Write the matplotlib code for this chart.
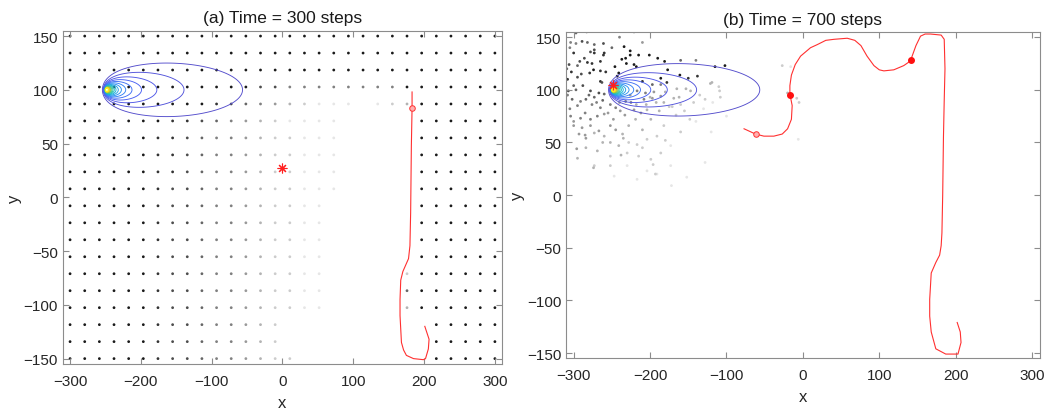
import numpy as np
import matplotlib.pyplot as plt
from matplotlib.colors import LinearSegmentedColormap

plt.rcParams['font.family'] = ['Liberation Sans', 'DejaVu Sans']

# ---- data ---------------------------------------------------------------
# candidate grid of panel (a): x columns, y rows (top -> bottom)
grid_x = np.linspace(-300, 300, 30)
grid_y = np.linspace(150, -150, 20)
# darkness of each grid point, 0 = not drawn, 9 = black
shade_rows = [
    "999999999999999999999999999999",
    "999999999999999999999999999999",
    "999999999999999999999999999999",
    "999999999999977555555559999999",
    "999999999987654321110123999999",
    "999999988765432111100000999999",
    "999999887655432211100000999999",
    "999999887655432211100000999999",
    "999999887655432211100000999999",
    "999999877655432211100000999999",
    "999999877655432211000000999999",
    "999999877655432211000000999999",
    "999999877655432211000000999999",
    "999999877655432211000000999999",
    "999999877655432211000002999999",
    "999999877655432211000006999999",
    "999999877655432211000003999999",
    "999999877655432000000000099999",
    "999999877655432000000000099999",
    "999999877655432200000000099999",
]

# particles of panel (b): x, y, darkness
cloud_x = [-297, -283, -221, -304, -297, -289, -282, -273, -261, -300, -273, -278, -273, -260,
           -234, -226, -226, -215, -201, -261, -237, -232, -190, -181, -286, -292, -282, -276,
           -306, -295, -265, -231, -221, -218, -246, -177, -161, -150, -138, -115, -102, -303,
           -290, -279, -274, -265, -258, -241, -186, -178, -295, -308, -265, -263, -243, -210,
           -197, -186, -121, -119, -153, -147, -165, -109, -195, -307, -297, -278, -267, -260,
           -273, -284, -217, -206, -197, -186, -208, -225, -232, -302, -291, -295, -276, -265,
           -260, -269, -278, -291, -304, -252, -245, -239, -221, -212, -182, -169, -162, -143,
           -171, -188, -204, -160, -300, -289, -278, -267, -252, -245, -236, -228, -219, -210,
           -199, -182, -293, -284, -273, -260, -252, -241, -228, -217, -204, -191, -284, -269,
           -252, -230, -215, -199, -186, -173, -273, -252, -230, -204, -191, -247, -217, -173,
           -128, -110, -108, -27, -5, -8, -20, -16, -6, -140, -120, -100,
           -296, -274, -238, -196, -172, -152, -128, -193,
           -308, -305, -300, -285, -280, -270, -262, -255, -248, -240, -233, -226, -218, -205,
           -200, -192, -180, -175, -166, -155, -148, -135, -130, -118, -300, -288, -309, -305,
           -250, -240, -210, -160, -140, -285, -262, -235, -210, -295, -180, -160]
cloud_y = [154, 155, 155, 145, 144, 146, 145, 143, 144, 135, 138, 136, 135, 135,
           141, 137, 133, 133, 133, 133, 129, 130, 130, 127, 130, 127, 126, 125,
           124, 123, 127, 125, 124, 122, 122, 119, 114, 111, 113, 122, 123, 117,
           115, 116, 119, 118, 117, 116, 111, 107, 112, 110, 108, 107, 113, 108,
           105, 105, 106, 107, 101, 99, 101, 99, 98, 99, 100, 99, 97, 96,
           93, 91, 99, 97, 92, 94, 91, 88, 89, 91, 89, 85, 86, 83,
           77, 75, 72, 73, 75, 86, 83, 80, 81, 78, 88, 92, 93, 88,
           84, 80, 81, 86, 66, 64, 66, 61, 66, 62, 58, 66, 72, 62,
           72, 66, 58, 54, 59, 56, 50, 47, 50, 48, 53, 56, 45, 42,
           37, 40, 37, 34, 40, 47, 28, 28, 28, 23, 20, 18, 15, 28,
           91, 103, 93, 123, 88, 92, 97, 122, 53, 70, 60, 75,
           44, 26, 38, 29, 9, 17, 31, 20,
           95, 82, 70, 78, 95, 88, 90, 78, 72, 88, 76, 95, 86, 86,
           93, 88, 98, 84, 76, 80, 72, 95, 82, 88, 104, 104, 120, 140,
           140, 150, 145, 128, 128, 57, 50, 54, 45, 35, 52, 60]
cloud_d = [6, 5, 5, 5, 5, 7, 6, 6, 7, 8, 7, 7, 8, 8,
           9, 9, 9, 9, 9, 8, 9, 9, 9, 9, 7, 7, 8, 8,
           7, 6, 8, 9, 9, 9, 9, 9, 9, 8, 8, 9, 9, 8,
           7, 8, 9, 8, 8, 9, 9, 8, 7, 8, 8, 7, 9, 8,
           6, 5, 3, 3, 3, 3, 3, 2, 4, 7, 6, 7, 7, 6,
           6, 6, 5, 5, 4, 4, 5, 5, 5, 6, 5, 5, 5, 5,
           4, 5, 5, 5, 5, 5, 5, 4, 4, 4, 3, 3, 3, 2,
           2, 3, 3, 2, 4, 4, 4, 4, 4, 4, 3, 3, 3, 3,
           3, 2, 4, 4, 3, 3, 3, 3, 2, 2, 2, 2, 3, 3,
           2, 2, 2, 2, 2, 1, 2, 2, 1, 1, 1, 1, 1, 1,
           2, 2, 2, 2, 2, 2, 3, 1, 1, 1, 1, 1,
           4, 3, 3, 2, 1, 1, 1, 2,
           5, 5, 4, 5, 6, 5, 6, 4, 4, 4, 4, 4, 3, 3,
           3, 3, 3, 2, 2, 2, 2, 2, 1, 1, 6, 7, 6, 5,
           6, 5, 4, 6, 5, 4, 3, 3, 2, 3, 2, 2]

# searcher path, panel (a)
path_a_x = [183, 183, 182, 181, 180, 178, 174, 170, 167, 166, 166, 168, 171, 175, 185, 199,
            202, 206, 207, 204, 201]
path_a_y = [98, 83, 48, -14, -45, -57, -63, -69, -77, -95, -110, -135, -142, -147, -150, -151,
            -150, -141, -132, -126, -120]
# searcher path, panel (b)
path_b_x = [-77, -62, -51, -38, -27, -20, -15, -14, -17, -17, -15, -10, -3, 10, 19, 30, 41, 58,
            68, 76, 84, 93, 100, 106, 119, 132, 138, 141, 148, 154, 160, 167, 181, 185, 186,
            185, 184, 183, 182, 181, 179, 174, 168, 166, 166, 168, 174, 187, 203, 207, 206, 202]
path_b_y = [63, 58, 56, 56, 58, 63, 72, 85, 96, 104, 114, 124, 132, 140, 143, 147, 148, 149,
            147, 142, 132, 123, 119, 118, 119, 123, 126, 128, 142, 151, 153, 153, 152, 148,
            120, 90, 55, 0, -36, -48, -57, -64, -74, -99, -115, -130, -146, -151, -151, -140,
            -130, -121]

# marks
star_a = (0, 27)
now_a = (183, 83)
star_b = (-249, 105)
now_b = (-62, 58)
hits_b_x = [-17, 141]
hits_b_y = [95, 128]

# odour plume: source, plume reach of outer contour, number of levels
src_x, src_y = -249, 100
reach = 203.0
n_levels = 20
wind_a, decay_b = 0.254, 0.259

titles = ["(a) Time = 300 steps", "(b) Time = 700 steps"]

# ---- plume field ----------------------------------------------------------
gx, gy = np.meshgrid(np.arange(-300, 20, 0.5), np.arange(40, 160, 0.5))
dx = gx - src_x
rr = np.sqrt(dx ** 2 + (gy - src_y) ** 2) + 0.3
field = np.exp(wind_a * dx - decay_b * rr) / np.sqrt(rr)
lev1 = np.exp(-(decay_b - wind_a) * reach) / np.sqrt(reach)
levels = lev1 * np.arange(1, n_levels + 1)

parula = LinearSegmentedColormap.from_list("parula", [
    (0.33, 0.30, 0.80), (0.30, 0.36, 0.95), (0.1786, 0.5289, 0.9682),
    (0.0689, 0.6948, 0.8394), (0.2161, 0.7843, 0.5923), (0.6720, 0.7793, 0.2227),
    (0.9970, 0.7659, 0.2199), (0.9769, 0.9839, 0.0805)])

gray = lambda d: str(1 - 0.9 * d / 9)
edge = '#8c8c8c'


def style(ax, title):
    ax.set_xlim(-310, 310)
    ax.set_ylim(-155, 155)
    ax.set_xticks([-300, -200, -100, 0, 100, 200, 300])
    ax.set_yticks([-150, -100, -50, 0, 50, 100, 150])
    for s in ax.spines.values():
        s.set_color(edge)
        s.set_linewidth(0.8)
    ax.tick_params(direction='in', length=4, width=0.8, color=edge, labelcolor='#262626',
                   labelsize=11, top=True, right=True)
    ax.tick_params(axis='x', pad=7)
    ax.set_xlabel('x', fontsize=12, color='#262626', labelpad=5)
    ax.set_ylabel('y', fontsize=12, color='#262626', labelpad=1)
    ax.set_title(title, fontsize=12.5, color='#1a1a1a', pad=6)


fig = plt.figure(figsize=(10.48, 4.10), dpi=100)
axL = fig.add_axes([0.0601, 0.1098, 0.4189, 0.8129])
axR = fig.add_axes([0.5401, 0.1237, 0.4520, 0.7960])

# panel (a)
px, py, pc = [], [], []
for i, row in enumerate(shade_rows):
    for j, ch in enumerate(row):
        d = int(ch)
        if d > 0:
            px.append(grid_x[j])
            py.append(grid_y[i])
            pc.append(gray(d))
axL.scatter(px, py, s=4, c=pc, edgecolors='none', zorder=1)

# panel (b)
axR.scatter(cloud_x, cloud_y, s=4, c=[gray(d) for d in cloud_d], edgecolors='none', zorder=1)

for ax in (axL, axR):
    ax.contour(gx, gy, field, levels=levels, cmap=parula, linewidths=0.65, zorder=2)

axL.plot(path_a_x, path_a_y, color='#ff3030', lw=0.8, zorder=3)
axL.plot(*now_a, 'o', ms=4, mfc='#ffb0b0', mec='#ff3030', mew=0.7, zorder=4)
axL.plot(*star_a, marker=(8, 2, 0), ms=7, color='#ff2020', mew=0.8, ls='none', zorder=4)

axR.plot(path_b_x, path_b_y, color='#ff3030', lw=0.8, zorder=3)
axR.plot(hits_b_x, hits_b_y, 'o', ms=4, color='#ff1010', ls='none', zorder=4)
axR.plot(*now_b, 'o', ms=4, mfc='#ffb0b0', mec='#ff3030', mew=0.7, zorder=4)
axR.plot(*star_b, marker=(8, 2, 0), ms=7, color='#ff2020', mew=0.8, ls='none', zorder=4)

style(axL, titles[0])
style(axR, titles[1])

fig.savefig('out.png', dpi=100)
